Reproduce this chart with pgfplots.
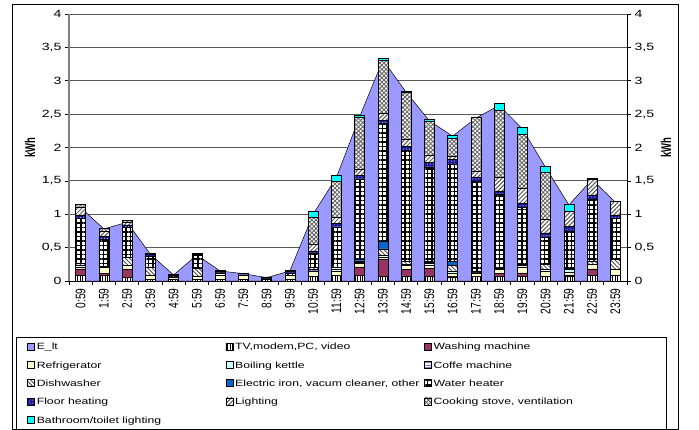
\documentclass[border=0pt]{standalone}
\usepackage{pgfplots}
\pgfplotsset{compat=1.18}
\usepackage{pgfplotstable}
\usetikzlibrary{patterns,patterns.meta}
\usepackage{fontspec}
\setmainfont{Liberation Sans}[FakeStretch=1.35]
\newfontfamily\plainfont{Liberation Sans}

\definecolor{areablue}{HTML}{9999FF}
\definecolor{wash}{HTML}{993366}
\definecolor{fridge}{HTML}{FFFFCC}
\definecolor{kettle}{HTML}{CCFFFF}
\definecolor{iron}{HTML}{0066CC}
\definecolor{floorc}{HTML}{1A1A99}
\definecolor{bath}{HTML}{00FFFF}

\pgfplotstableread{
h TV Wash Ref Ket Cof Dish Iron Water Floor Light Cook Bath Elt
0  0.08 0.10 0.03 0    0.02 0.04 0    0.67 0.05 0.12 0.04 0    1.10
1  0.08 0.03 0.09 0    0.02 0    0    0.40 0.05 0.08 0.04 0    0.78
2  0.05 0.13 0.05 0    0.01 0.12 0    0.44 0.04 0.04 0.03 0    0.88
3  0.02 0    0.06 0    0    0.13 0    0.16 0.03 0.02 0    0    0.40
4  0.02 0    0.04 0    0    0    0    0.02 0.02 0    0    0    0.09
5  0.02 0    0.05 0    0    0.12 0    0.19 0.02 0.01 0    0    0.39
6  0.02 0    0.07 0    0.03 0    0    0.02 0.02 0    0    0    0.15
7  0.02 0    0.07 0    0    0    0    0    0.02 0    0    0    0.11
8  0.02 0    0.01 0    0    0    0    0.01 0.02 0    0    0    0.05
9  0.03 0    0.06 0    0    0    0    0.03 0.02 0    0    0.02 0.15
10 0.07 0    0.07 0    0.03 0.03 0    0.22 0.03 0.10 0.40 0.09 1.00
11 0.08 0    0.07 0.03 0.03 0    0    0.60 0.05 0.10 0.53 0.09 1.55
12 0.08 0.13 0.05 0.02 0.02 0    0.03 1.20 0.05 0.10 0.78 0.03 2.46
13 0.07 0.26 0.03 0    0.02 0.10 0.12 1.76 0.05 0.10 0.79 0.04 3.31
14 0.07 0.10 0.06 0    0.02 0.05 0    1.66 0.06 0.10 0.71 0.02 2.83
15 0.07 0.12 0.05 0    0.02 0.02 0.02 1.41 0.07 0.10 0.52 0.02 2.40
16 0.06 0.01 0.05 0.03 0    0.08 0.06 1.46 0.07 0.05 0.27 0.05 2.17
17 0.07 0    0.05 0.01 0    0    0.02 1.34 0.07 0.08 0.81 0    2.44
18 0.07 0.04 0.06 0    0.02 0    0    1.11 0.05 0.20 1.01 0.10 2.63
19 0.07 0.05 0.08 0    0.03 0.02 0    0.85 0.07 0.22 0.81 0.10 2.28
20 0.07 0    0.08 0.02 0    0.08 0    0.41 0.06 0.21 0.70 0.09 1.70
21 0.07 0.02 0.04 0.04 0.02 0    0    0.55 0.08 0.22 0    0.11 1.14
22 0.08 0.10 0.07 0    0    0.05 0    0.92 0.07 0.23 0    0.02 1.52
23 0.09 0    0.08 0    0    0.15 0    0.62 0.05 0.20 0.01 0    1.18
}\data

\newcommand{\lt}[1]{\makebox[187bp][l]{#1}}
\newcommand{\ltl}[1]{\makebox[220bp][l]{#1}}
\newcommand{\xl}[1]{\scalebox{1}[1.35]{\plainfont\fontsize{10.3}{12}\selectfont #1}}
\newcommand{\yl}{\scalebox{1}[1.5]{\plainfont\fontsize{9.5}{11}\selectfont\bfseries kWh}}

\begin{document}
\begin{tikzpicture}
\useasboundingbox (-69bp,-149bp) rectangle (630bp,281bp);
\pgfplotsset{
  common/.style={
    scale only axis, width=558bp, height=267bp,
    xmin=-0.5, xmax=23.5, ymin=0, ymax=4,
    ytick={0,0.5,...,4},
    tick align=outside,
    major tick length=4bp, minor tick length=4bp,
    /pgf/number format/assume math mode=true,
    /pgf/number format/use comma,
    tick label style={font=\fontsize{10.5}{12.6}\selectfont},
    y tick style={black, line width=0.6bp},
  }
}
% base axis: grid, area, left axis, x axis
\begin{axis}[common,
  axis y line*=left, axis x line*=bottom,
  y axis line style={-, gray, line width=1.6bp},
  x axis line style={-, black, line width=0.8bp},
  ymajorgrids,
  major grid style={gray!70!black, line width=0.8bp},
  xtick={0,...,23},
  xticklabels={\xl{0:59},\xl{1:59},\xl{2:59},\xl{3:59},\xl{4:59},\xl{5:59},\xl{6:59},\xl{7:59},\xl{8:59},\xl{9:59},\xl{10:59},\xl{11:59},\xl{12:59},\xl{13:59},\xl{14:59},\xl{15:59},\xl{16:59},\xl{17:59},\xl{18:59},\xl{19:59},\xl{20:59},\xl{21:59},\xl{22:59},\xl{23:59}},
  xticklabel style={rotate=90, anchor=east},
  minor xtick={-0.5,0.5,...,23.5},
  major x tick style={draw=none},
  minor x tick style={black, line width=0.6bp},
  ylabel={\yl},
  every axis y label/.style={at={(axis description cs:-0.07,0.5)}, rotate=90, anchor=center},
]
\addplot[fill=areablue, draw=black, line width=0.5bp] table[x=h,y=Elt]{\data} \closedcycle;
\end{axis}

% bars axis with right y axis and legend
\begin{axis}[common,
  axis y line*=right, axis x line=none,
  y axis line style={-, black, line width=0.8bp},
  ybar stacked, bar width=10bp,
  ylabel={\yl},
  every axis y label/.style={at={(axis description cs:1.07,0.5)}, rotate=90, anchor=center},
  every axis plot post/.append style={draw=black, line width=0.5bp,
    legend image code/.code={\draw[##1,draw=black,line width=0.4bp] (0bp,-3.5bp) rectangle (7bp,3.5bp);}},
  legend columns=3,
  legend cell align=left,
  legend style={at={(axis description cs:-0.095,-0.208)}, anchor=north west,
    draw=black, line width=0.8bp, inner xsep=11bp, inner ysep=0.5bp,
    font=\fontsize{9.1}{11}\selectfont,
    nodes={inner xsep=2bp, inner ysep=0bp, text height=12.4bp, text depth=5.9bp}},
]
\addlegendimage{fill=areablue, draw=black, legend image code/.code={\draw[##1,draw=black,line width=0.4bp] (0bp,-3.5bp) rectangle (7bp,3.5bp);}}
\addlegendentry{\lt{E\_lt}}
\addplot[fill=white, postaction={pattern={Lines[angle=90,distance=2.5bp,line width=1bp]}, pattern color=black}] table[x=h,y=TV]{\data};
\addlegendentry{\lt{TV,modem,PC, video}}
\addplot[fill=wash] table[x=h,y=Wash]{\data};
\addlegendentry{\ltl{Washing machine}}
\addplot[fill=fridge] table[x=h,y=Ref]{\data};
\addlegendentry{\lt{Refrigerator}}
\addplot[fill=kettle] table[x=h,y=Ket]{\data};
\addlegendentry{\lt{Boiling kettle}}
\addplot[fill=white, postaction={pattern={Lines[angle=0,distance=2.5bp,line width=0.6bp]}, pattern color=floorc!60}] table[x=h,y=Cof]{\data};
\addlegendentry{\ltl{Coffe machine}}
\addplot[fill=white, postaction={pattern={Lines[angle=-45,distance=3bp,line width=0.9bp]}, pattern color=black!70}] table[x=h,y=Dish]{\data};
\addlegendentry{\lt{Dishwasher}}
\addplot[fill=iron] table[x=h,y=Iron]{\data};
\addlegendentry{\lt{Electric iron, vacum cleaner, other}}
\addplot[fill=white, postaction={pattern={Hatch[angle=0,distance=4.5bp,line width=1.3bp]}, pattern color=black}] table[x=h,y=Water]{\data};
\addlegendentry{\ltl{Water heater}}
\addplot[fill=floorc, postaction={pattern=dots, pattern color=white}] table[x=h,y=Floor]{\data};
\addlegendentry{\lt{Floor heating}}
\addplot[fill=white, postaction={pattern={Lines[angle=45,distance=3bp,line width=1bp]}, pattern color=black!65}] table[x=h,y=Light]{\data};
\addlegendentry{\lt{Lighting}}
\addplot[fill=white, postaction={pattern={Hatch[angle=45,distance=3bp,line width=0.9bp]}, pattern color=black!60}] table[x=h,y=Cook]{\data};
\addlegendentry{\ltl{Cooking stove, ventilation}}
\addplot[fill=bath] table[x=h,y=Bath]{\data};
\addlegendentry{\lt{Bathroom/toilet lighting}}
\end{axis}

\draw[black, line width=0.8bp] (-57bp,277bp) rectangle (609bp,-148bp);
\end{tikzpicture}
\end{document}
